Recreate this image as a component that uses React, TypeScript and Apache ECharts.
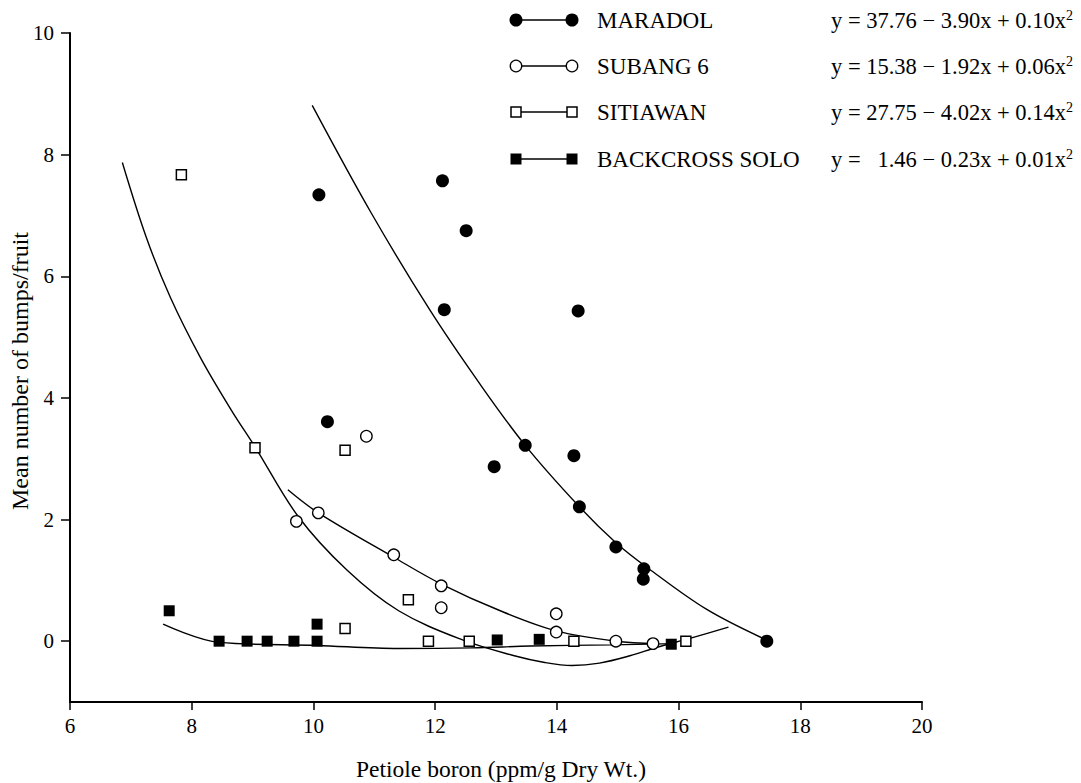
import React, { useEffect, useRef } from "react";
import * as echarts from "echarts";

const FONT = '"Liberation Serif", "DejaVu Serif", "Times New Roman", serif';

// ---- observed points [x = petiole boron, y = mean bumps/fruit] ----
const maradolPts: [number, number][] = [
  [10.09, 7.34], [12.12, 7.57], [12.51, 6.75], [12.15, 5.45], [14.35, 5.43],
  [10.23, 3.61], [13.48, 3.22], [12.97, 2.87], [14.28, 3.05], [14.37, 2.21],
  [14.97, 1.55], [15.43, 1.19], [15.42, 1.02], [17.45, 0.0],
];
const subangPts: [number, number][] = [
  [10.87, 3.37], [9.72, 1.97], [10.08, 2.11], [11.32, 1.42], [12.1, 0.91],
  [12.1, 0.55], [13.99, 0.45], [13.99, 0.15], [14.97, 0.0], [15.58, -0.04],
];
const sitiawanPts: [number, number][] = [
  [7.83, 7.67], [9.04, 3.18], [10.52, 3.14], [11.56, 0.68], [10.52, 0.21],
  [11.89, 0.0], [12.56, 0.0], [14.28, 0.0], [16.12, 0.0],
];
const backcrossPts: [number, number][] = [
  [7.63, 0.5], [8.45, 0.0], [8.91, 0.0], [9.24, 0.0], [9.68, 0.0],
  [10.06, 0.0], [10.06, 0.28], [13.02, 0.02], [13.71, 0.03], [15.88, -0.05],
];

// ---- fitted curves ----
const maradolFit: [number, number][] = [
  [9.98, 8.81], [10.95, 7.04], [11.91, 5.45], [12.7, 4.28], [13.48, 3.22],
  [14.37, 2.21], [14.97, 1.62], [15.5, 1.2], [16.45, 0.53], [17.4, 0.04],
];
const subangFit: [number, number][] = [
  [9.58, 2.49], [10.08, 2.11], [11.32, 1.38], [12.1, 0.94], [13.07, 0.5],
  [13.99, 0.17], [14.97, 0.0], [15.65, -0.04],
];
const sitiawanFit: [number, number][] = [
  [6.86, 7.87], [7.25, 6.65], [7.65, 5.65], [8.15, 4.65], [8.65, 3.8],
  [9.05, 3.18], [9.75, 2.05], [10.55, 1.17], [11.4, 0.5], [12.45, 0.02],
  [13.3, -0.24], [13.8, -0.35], [14.25, -0.4], [14.7, -0.36], [15.2, -0.24],
  [15.65, -0.1], [16.2, 0.05], [16.82, 0.23],
];
const backcrossFit: [number, number][] = [
  [7.53, 0.28], [8.45, -0.02], [10.06, -0.07], [11.4, -0.12], [12.6, -0.11],
  [13.56, -0.08], [14.9, -0.06], [15.95, -0.04],
];

const yTicks = [0, 2, 4, 6, 8, 10];
const xTitle = "Petiole boron (ppm/g Dry Wt.)";
const yTitle = "Mean number of bumps/fruit";
const legendNames = ["MARADOL", "SUBANG 6", "SITIAWAN", "BACKCROSS SOLO"];
const legendEquations = [
  "y = 37.76 \u2212 3.90x + 0.10x{s|2}",
  "y = 15.38 \u2212 1.92x + 0.06x{s|2}",
  "y = 27.75 \u2212 4.02x + 0.14x{s|2}",
  "y = \u20071.46 \u2212 0.23x + 0.01x{s|2}",
];

type Mk = { symbol: string; size: number; fill: string; stroke: string; bw: number };
const markers: Mk[] = [
  { symbol: "circle", size: 13, fill: "#000", stroke: "#000", bw: 0 },
  { symbol: "circle", size: 11.5, fill: "#fff", stroke: "#000", bw: 1.3 },
  { symbol: "rect", size: 10, fill: "#fff", stroke: "#000", bw: 1.5 },
  { symbol: "rect", size: 11, fill: "#000", stroke: "#000", bw: 0 },
];

function legendSymbol(m: Mk, cx: number, cy: number): any {
  const style = { fill: m.fill, stroke: m.stroke, lineWidth: m.bw };
  if (m.symbol === "circle") {
    return { type: "circle", shape: { cx, cy, r: m.size / 2 }, style, z: 110 };
  }
  return {
    type: "rect",
    shape: { x: cx - m.size / 2, y: cy - m.size / 2, width: m.size, height: m.size },
    style,
    z: 110,
  };
}

export default function App() {
  const ref = useRef<HTMLDivElement>(null);

  useEffect(() => {
    if (!ref.current) return;
    const chart = echarts.init(ref.current, undefined, { renderer: "svg" });

    const ptsSets = [maradolPts, subangPts, sitiawanPts, backcrossPts];
    const fitSets = [maradolFit, subangFit, sitiawanFit, backcrossFit];

    const series: any[] = [];
    fitSets.forEach((d, i) => {
      series.push({
        name: legendNames[i] + " fit",
        type: "line",
        data: d,
        smooth: 0.35,
        showSymbol: false,
        silent: true,
        lineStyle: { color: "#000", width: 1.4 },
        z: 2,
      });
    });
    ptsSets.forEach((d, i) => {
      const m = markers[i];
      series.push({
        name: legendNames[i],
        type: "scatter",
        data: d,
        symbol: m.symbol,
        symbolSize: m.size,
        silent: true,
        itemStyle: { color: m.fill, borderColor: m.stroke, borderWidth: m.bw, opacity: 1 },
        z: 5,
      });
    });

    const rowsY = [20, 66, 112, 159];
    const graphics: any[] = [];
    rowsY.forEach((ry, i) => {
      const m = markers[i];
      graphics.push({
        type: "line",
        shape: { x1: 516, y1: ry, x2: 572, y2: ry },
        style: { stroke: "#000", lineWidth: 1.3 },
        z: 100,
      });
      graphics.push(legendSymbol(m, 516, ry));
      graphics.push(legendSymbol(m, 572, ry));
      graphics.push({
        type: "text",
        x: 597,
        y: ry,
        style: {
          text: legendNames[i],
          fontSize: 23,
          fontFamily: FONT,
          fill: "#000",
          verticalAlign: "middle",
        },
        z: 110,
      });
      graphics.push({
        type: "text",
        x: 831,
        y: ry,
        style: {
          text: legendEquations[i],
          fontSize: 22.5,
          fontFamily: FONT,
          fill: "#000",
          verticalAlign: "middle",
          rich: {
            s: { fontSize: 14, fontFamily: FONT, fill: "#000", verticalAlign: "top", lineHeight: 14 },
          },
        },
        z: 110,
      });
    });
    graphics.push({
      type: "text",
      x: 20,
      y: 371,
      rotation: Math.PI / 2,
      style: {
        text: yTitle,
        fontSize: 24,
        fontFamily: FONT,
        fill: "#000",
        align: "center",
        verticalAlign: "middle",
      },
      z: 110,
    });

    chart.setOption({
      animation: false,
      backgroundColor: "#fff",
      grid: { left: 70, right: 159, top: 33, bottom: 81, containLabel: false, outerBoundsMode: "none" },
      xAxis: {
        type: "value",
        min: 6,
        max: 20,
        interval: 2,
        name: xTitle,
        nameLocation: "middle",
        nameGap: 55,
        nameTextStyle: { fontSize: 23.5, fontFamily: FONT, color: "#000", padding: [0, 0, 0, 10] },
        axisLine: { show: true, onZero: false, lineStyle: { color: "#000", width: 2 } },
        axisTick: { show: true, length: 8, lineStyle: { color: "#000", width: 1.5 } },
        axisLabel: { fontSize: 21, fontFamily: FONT, color: "#000", margin: 13 },
        splitLine: { show: false },
      },
      yAxis: {
        type: "value",
        min: -1,
        max: 10,
        axisLine: { show: true, onZero: false, lineStyle: { color: "#000", width: 2 } },
        axisTick: { show: true, length: 9, customValues: yTicks, lineStyle: { color: "#000", width: 1.5 } },
        axisLabel: { fontSize: 21, fontFamily: FONT, color: "#000", margin: 16, customValues: yTicks },
        splitLine: { show: false },
      },
      graphic: graphics,
      series,
    });

    return () => chart.dispose();
  }, []);

  return (
    <div
      ref={ref}
      style={{ position: "absolute", left: 0, top: 0, width: 1081, height: 783, background: "#fff" }}
    />
  );
}
